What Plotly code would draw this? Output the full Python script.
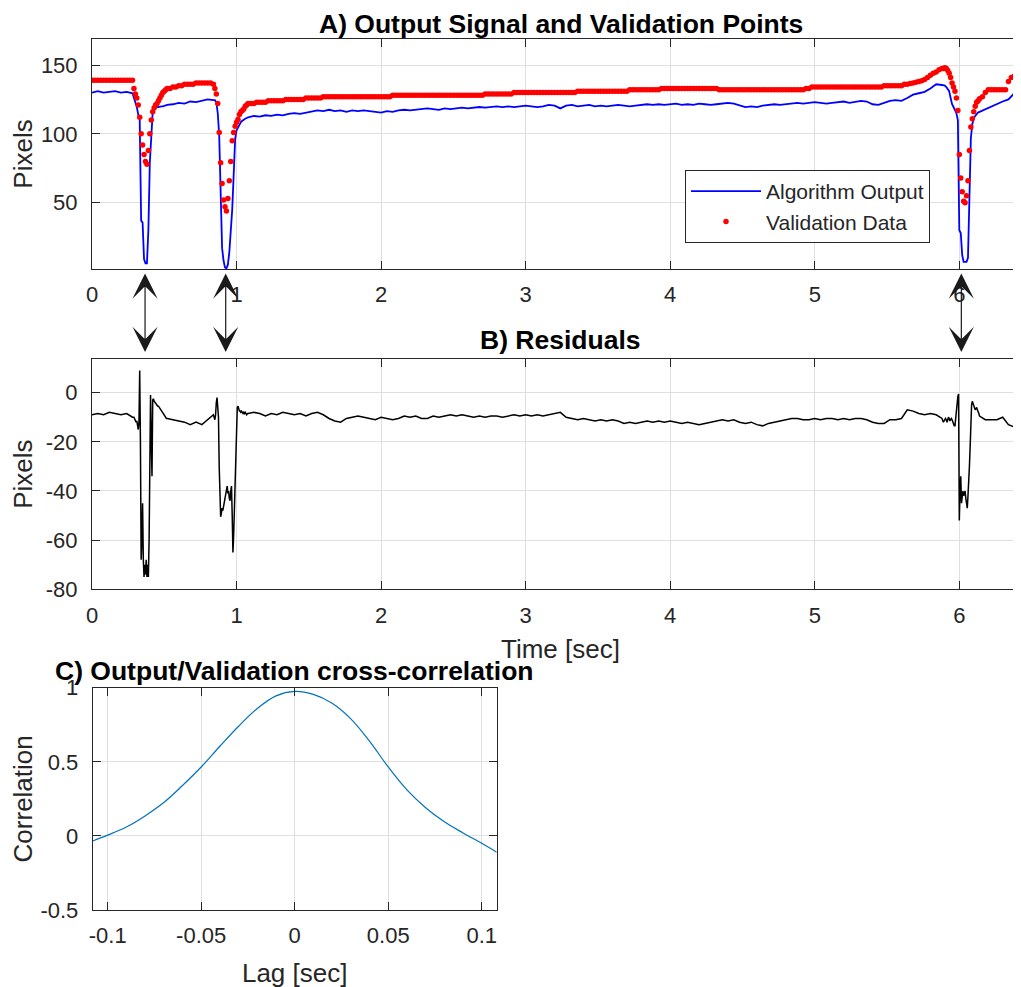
import numpy as np
import plotly.graph_objects as go

FONT = "Liberation Sans, Arial, Helvetica, sans-serif"

# ---------------- Algorithm output: sample times (s) ----------------
t_pre = np.round(np.arange(0.00, 0.281, 0.04), 3)
t_d1 = np.round(np.arange(0.29, 0.521, 0.01), 3)
t_mid = np.round(np.arange(0.56, 0.841, 0.04), 3)
t_d2 = np.round(np.arange(0.85, 1.081, 0.01), 3)
t_long = np.round(np.arange(1.12, 5.881, 0.04), 3)
t_d3 = np.round(np.arange(5.89, 6.141, 0.01), 3)
t_post = np.round(np.arange(6.18, 6.461, 0.04), 3)

# ---------------- Algorithm output (pixels) ----------------
out_pre = [130, 131, 130, 130.5, 131, 130, 130.5, 129.5]
out_d1 = [126.5, 124, 119.5, 114, 110.5, 37, 35.5, 9, 6, 6, 30, 79,
          101, 116, 118, 119, 119.5, 119.5, 120, 120, 120, 120.5, 120.5, 121]
out_mid = [121.5, 122.5, 122, 123.5, 123, 124, 125, 124.5]
out_d2 = [124.5, 123, 115, 99, 66, 17, 8, 3, 2.3, 5, 14, 28,
          45, 70, 96, 102.5, 104.5, 107, 108.5, 109.5, 110.5, 111, 111.5, 112]
out_long = [113, 112.5, 113.5, 113, 114, 113.5, 114.5, 115, 114.5, 115.5,
            116.5, 117, 116.5, 117.5, 116.5, 117, 116, 117, 116.5, 117,
            116.5, 116, 115.5, 116.5, 116, 117, 117.5, 117, 117.5, 118,
            118.5, 118, 117.5, 118.5, 118, 118.5, 119, 118.5, 119, 119.5,
            119, 119.5, 120, 119.5, 120, 119.5, 120, 120.5, 120, 119.5,
            120, 121, 120.5, 118.5, 120.5, 121, 120, 120.5, 121, 120,
            120.5, 120, 120.5, 121, 120.5, 120, 120.5, 121, 121.5, 121,
            121.5, 121, 121.5, 122, 121, 121.5, 121, 122, 121.5, 121,
            121.5, 122, 122.5, 122, 121, 119.5, 120, 119.5, 120.5, 121,
            121.5, 121, 121.5, 122, 122.5, 122, 122.5, 123, 122.5, 122,
            122.5, 123, 123.5, 122.5, 123, 124, 123.5, 121.5, 121, 122.5,
            124, 124.5, 124, 126, 128.5, 129.5, 130.5, 133, 136, 135.5]
out_d3 = [135.5, 135, 134, 132.5, 131, 126, 121.5, 119.5, 117.5, 115, 110, 30,
          28, 12, 7, 7, 7, 10, 55, 97, 107, 111.5, 113, 114.5, 115.5, 116]
out_post = [118, 120, 121.5, 123.5, 125, 129.5, 133, 134]

# ---------------- Validation data: sample times (s) ----------------
v_pre_t = np.round(np.arange(0.00, 0.281, 0.02), 3)
v_d1_t = np.round(np.arange(0.29, 0.521, 0.01), 3)
v_mid_t = np.round(np.arange(0.54, 0.841, 0.02), 3)
v_d2_t = np.round(np.arange(0.85, 1.081, 0.01), 3)
v_long_t = np.round(np.arange(1.10, 5.881, 0.02), 3)
v_d3_t = np.round(np.arange(5.89, 6.141, 0.01), 3)
v_post_t = np.round(np.arange(6.16, 6.481, 0.02), 3)

# ---------------- Validation data (pixels) ----------------
val_pre = [139, 139, 139, 139, 139, 139, 139, 139, 139, 139, 139, 139, 139, 139, 139]
val_d1 = [133, 129, 126, 121, 112, 100, 92, 85, 80, 78, 88, 100,
          110, 116, 119, 121, 122, 124, 126, 128, 130, 131, 132, 133]
val_mid = [133, 134, 134, 135, 135, 136, 136, 136, 136, 137, 137, 137, 137, 137, 137, 136]
val_d2 = [133, 129, 122, 101, 79, 64, 52, 47, 44, 53, 66, 80,
          95, 101, 105.5, 108.5, 110.5, 114, 116, 117, 118, 120, 121, 122]
val_long = [122, 122, 123, 123, 123, 123, 124, 124, 124, 124,
            124, 124, 125, 125, 125, 125, 125, 125, 125, 126,
            126, 126, 126, 126, 126, 127, 127, 127, 127, 127,
            127, 127, 127, 127, 127, 127, 127, 127, 127, 127,
            127, 127, 127, 127, 127, 127, 127, 127, 127, 128,
            128, 128, 128, 128, 128, 128, 128, 128, 128, 128,
            128, 128, 128, 128, 128, 128, 128, 128, 128, 128,
            128, 128, 128, 128, 128, 128, 128, 128, 128, 128,
            128, 129, 129, 129, 129, 129, 129, 129, 129, 129,
            129, 130, 130, 130, 130, 130, 130, 130, 130, 130,
            130, 130, 130, 130, 130, 130, 130, 130, 130, 130,
            130, 130, 130, 131, 131, 131, 131, 131, 131, 131,
            131, 131, 131, 131, 131, 131, 131, 131, 131, 131,
            131, 132, 132, 132, 132, 132, 132, 132, 132, 132,
            132, 132, 133, 133, 133, 133, 133, 133, 133, 133,
            133, 133, 133, 133, 133, 133, 133, 133, 133, 133,
            133, 133, 132, 132, 132, 132, 132, 132, 132, 132,
            132, 132, 132, 132, 132, 132, 132, 132, 132, 132,
            132, 132, 132, 132, 132, 132, 132, 132, 132, 132,
            132, 132, 133, 133, 134, 134, 134, 134, 134, 134,
            134, 134, 134, 134, 134, 134, 134, 134, 134, 134,
            134, 134, 134, 134, 134, 134, 134, 134, 134, 135,
            135, 135, 135, 135, 135, 135, 136, 136, 136.5, 137,
            137.5, 138, 138.5, 139.5, 141, 142.5, 144, 145, 146.5, 147.5]
val_d3 = [147.5, 148, 147.5, 146, 144, 141, 137, 134, 131, 126, 117, 85,
          68, 58, 51, 50, 55, 66, 88, 105, 111, 116, 120, 123, 124, 125.5]
val_post = [127, 130, 132, 132, 132, 132, 132, 132, 132, 138, 141, 142, 143, 144, 144, 144, 144]

# ---------------- Residuals: sample times (s) and values (pixels) ----------------
r_d1 = np.round(np.arange(0.29, 0.5201, 0.005), 3)
r_d2 = np.round(np.arange(0.85, 1.0801, 0.005), 3)
r_d3 = np.round(np.arange(5.89, 6.1401, 0.005), 3)

res_pre = [-9, -8.5, -9, -8, -8.5, -9, -8.5, -10]
res_d1 = [-10, -10.5, -11, -12, -11.5, -13, -15, -12, 9, -20,
          -68, -60, -45, -68, -75, -70, -74, -68, -75, -70,
          -75, -60, -34, -1, -20, -34, -3, -2.5, -3.5, -4,
          -4.5, -4.5, -5, -5.5, -5.5, -6, -6.5, -6.5, -7, -8,
          -8.5, -9, -9.5, -10, -10.5, -10.5, -10.5]
res_mid = [-11, -11.5, -12, -13, -12, -13, -11, -9]
res_d2 = [-11, -9, -4, -2, -6, -10, -30, -50, -50.5, -49,
          -47, -48, -46, -45, -44, -42, -39, -38, -41, -40,
          -43, -44, -40, -38, -50, -65, -58, -46, -38, -25,
          -18, -6, -5.5, -7, -7.5, -7.5, -8, -7.5, -8, -8.5,
          -8, -8.5, -8, -8.5, -9, -8.5, -8.5]
res_long = [-8, -8.5, -9.5, -8.5, -9, -8, -8.5, -9, -8.5, -9.5,
            -8.5, -8, -9, -10.5, -11.5, -12, -10.5, -10, -9.5, -10,
            -10.5, -11, -10, -10.5, -11, -10.5, -9.5, -10, -9.5, -10.5,
            -10.5, -9.5, -10, -9.5, -9, -9.5, -9, -9.5, -10, -9.5,
            -10, -9.5, -9.5, -10, -9.5, -9, -9.5, -9, -9.5, -9,
            -9.5, -9, -8.5, -8, -10, -10.5, -11, -10.5, -11, -11.5,
            -11, -11.5, -11, -11.5, -12.5, -12, -12.5, -12, -11.5, -12,
            -11.5, -12, -11.5, -12, -12.5, -12, -12.5, -13, -12.5, -12,
            -11.5, -11, -11.5, -11, -12, -12.5, -12, -13, -13.5, -12.5,
            -12, -11.5, -11, -10.5, -10.5, -11, -11, -10.5, -11, -10.5,
            -10.5, -11, -10.5, -11, -10.5, -10.5, -11, -12, -12.5, -12.5,
            -11, -11, -10.5, -7, -7.5, -8.5, -9, -8.5, -9, -10.5]
res_d3 = [-12, -11.5, -11, -10.5, -11, -12, -11, -10, -10.5, -11.5,
          -11, -10.5, -11, -12, -13, -13.5, -13.5, -10, -7, -4,
          -1.5, -0.5, -52, -40, -34, -45, -42, -40, -42, -41,
          -40, -43, -46, -47, -42, -38, -30, -22, -12, -5,
          -3.5, -4.5, -5.5, -6.5, -7, -6.5, -6, -7, -7.5, -8.5, -9.5]
res_post = [-11, -11, -11, -10, -13, -14, -11, -11]

# ---------------- Panel C: cross-correlation ----------------
lag_sec = [-0.108, -0.10, -0.09, -0.08, -0.07, -0.06, -0.05, -0.04, -0.03, -0.02,
           -0.01, 0.0, 0.01, 0.02, 0.03, 0.04, 0.05, 0.06, 0.07, 0.08, 0.09, 0.10, 0.108]
corr = [-0.034, 0.005, 0.06, 0.135, 0.225, 0.34, 0.465, 0.605, 0.74, 0.86,
        0.945, 0.975, 0.955, 0.895, 0.79, 0.64, 0.465, 0.31, 0.19, 0.095, 0.02, -0.05, -0.11]

# event markers (s)
arrow_times = [0.367, 0.925, 6.014]

# tick labels
a_xticks = [0, 1, 2, 3, 4, 5, 6]
a_yticks = [50, 100, 150]
b_yticks = [-80, -60, -40, -20, 0]
c_xticks = [-0.1, -0.05, 0, 0.05, 0.1]
c_xlabels = ["-0.1", "-0.05", "0", "0.05", "0.1"]
c_yticks = [-0.5, 0, 0.5, 1]
c_ylabels = ["-0.5", "0", "0.5", "1"]

# ---------------- assemble ----------------
t_s = np.concatenate([t_pre, t_d1, t_mid, t_d2, t_long, t_d3, t_post])
out = np.array(out_pre + out_d1 + out_mid + out_d2 + out_long + out_d3 + out_post)
t_v = np.concatenate([v_pre_t, v_d1_t, v_mid_t, v_d2_t, v_long_t, v_d3_t, v_post_t])
val = np.array(val_pre + val_d1 + val_mid + val_d2 + val_long + val_d3 + val_post)
t_r = np.concatenate([t_pre, r_d1, t_mid, r_d2, t_long, r_d3, t_post])
res = np.array(res_pre + res_d1 + res_mid + res_d2 + res_long + res_d3 + res_post)
assert len(t_s) == len(out), (len(t_s), len(out))
assert len(t_v) == len(val), (len(t_v), len(val))
assert len(t_r) == len(res), (len(t_r), len(res))

W, H = 1021, 987
OFF = 8  # page body margin offset (px)

def fx(x):
    return (x - OFF) / W

def fy(y):
    return 1 - (y - OFF) / H

fig = go.Figure()
fig.add_trace(go.Scatter(x=t_s, y=out, mode="lines", name="Algorithm Output",
                         line=dict(color="#0000FF", width=1.8), xaxis="x", yaxis="y"))
fig.add_trace(go.Scatter(x=t_v, y=val, mode="markers", name="Validation Data",
                         marker=dict(color="#FF0000", size=5.5), xaxis="x", yaxis="y"))
fig.add_trace(go.Scatter(x=t_r, y=res, mode="lines", showlegend=False,
                         line=dict(color="#000000", width=1.5), xaxis="x2", yaxis="y2"))
fig.add_trace(go.Scatter(x=lag_sec, y=corr, mode="lines", showlegend=False,
                         line=dict(color="#0072BD", width=1.2, shape="spline"),
                         xaxis="x3", yaxis="y3"))

tickfont = dict(family=FONT, size=22, color="#262626")
titlefont = dict(family=FONT, size=26, color="#262626")
common = dict(showline=True, linecolor="#262626", linewidth=1, ticks="inside",
              ticklen=8, tickwidth=1, tickcolor="#262626", showgrid=True,
              gridcolor="#dfdfdf", gridwidth=1, zeroline=False, tickfont=tickfont,
              automargin=False)
cx = dict(common, ticklabelstandoff=6)
cy = dict(common, ticklabelstandoff=9)

dom_ab = [fx(92), 1.0]
t_max = (1029 - 92.2) / 144.52
fig.update_layout(
    width=W, height=H, autosize=False,
    margin=dict(l=0, r=0, t=0, b=0, autoexpand=False),
    paper_bgcolor="white", plot_bgcolor="white",
    font=dict(family=FONT, color="#262626"),
    xaxis=dict(cx, domain=dom_ab, range=[0, t_max], anchor="y", mirror="ticks",
               tickvals=a_xticks),
    yaxis=dict(cy, domain=[fy(269), fy(39)], range=[1.85, 168.9], anchor="x",
               tickvals=a_yticks, title=dict(text="Pixels", font=titlefont, standoff=5)),
    xaxis2=dict(cx, domain=dom_ab, range=[0, t_max], anchor="y2", mirror="ticks",
                tickvals=a_xticks, title=dict(text="Time [sec]", font=titlefont, standoff=13)),
    yaxis2=dict(cy, domain=[fy(589.3), fy(359)], range=[-80, 13.7], anchor="x2",
                tickvals=b_yticks, ticktext=[str(v) for v in b_yticks],
                title=dict(text="Pixels", font=titlefont, standoff=5)),
    xaxis3=dict(cx, domain=[fx(92.7), fx(496.7)], range=[-0.108, 0.108], anchor="y3",
                mirror="ticks", tickvals=c_xticks, ticktext=c_xlabels,
                title=dict(text="Lag [sec]", font=titlefont, standoff=16)),
    yaxis3=dict(cy, domain=[fy(910), fy(687.7)], range=[-0.5, 1], anchor="x3",
                mirror="ticks", tickvals=c_yticks, ticktext=c_ylabels,
                title=dict(text="Correlation", font=titlefont, standoff=5)),
    legend=dict(x=fx(685), y=fy(170), xanchor="left", yanchor="top",
                bgcolor="white", bordercolor="#262626", borderwidth=1,
                font=dict(family=FONT, size=21, color="#262626"), itemwidth=70,
                tracegroupgap=0),
    showlegend=True,
)

annots = [
    dict(text="<b>A) Output Signal and Validation Points</b>", xref="x domain", x=0.5,
         y=fy(8), yanchor="top", borderpad=0),
    dict(text="<b>B) Residuals</b>", xref="x2 domain", x=0.5, y=fy(340), yanchor="middle"),
    dict(text="<b>C) Output/Validation cross-correlation</b>", xref="x3 domain", x=0.5,
         y=fy(670.5), yanchor="middle"),
]
for a in annots:
    fig.add_annotation(yref="paper", showarrow=False, xanchor="center",
                       font=dict(family=FONT, size=26.5, color="#000000"), **a)

for t in arrow_times:
    fig.add_annotation(x=t, xref="x", y=fy(352), yref="paper", ax=0, ay=-80,
                       axref="pixel", ayref="pixel", text="", showarrow=True,
                       arrowside="end+start", arrowhead=3, startarrowhead=3,
                       arrowsize=3.5, startarrowsize=3.5, arrowwidth=1.2,
                       arrowcolor="#1a1a1a")

fig.write_html("out.html")
